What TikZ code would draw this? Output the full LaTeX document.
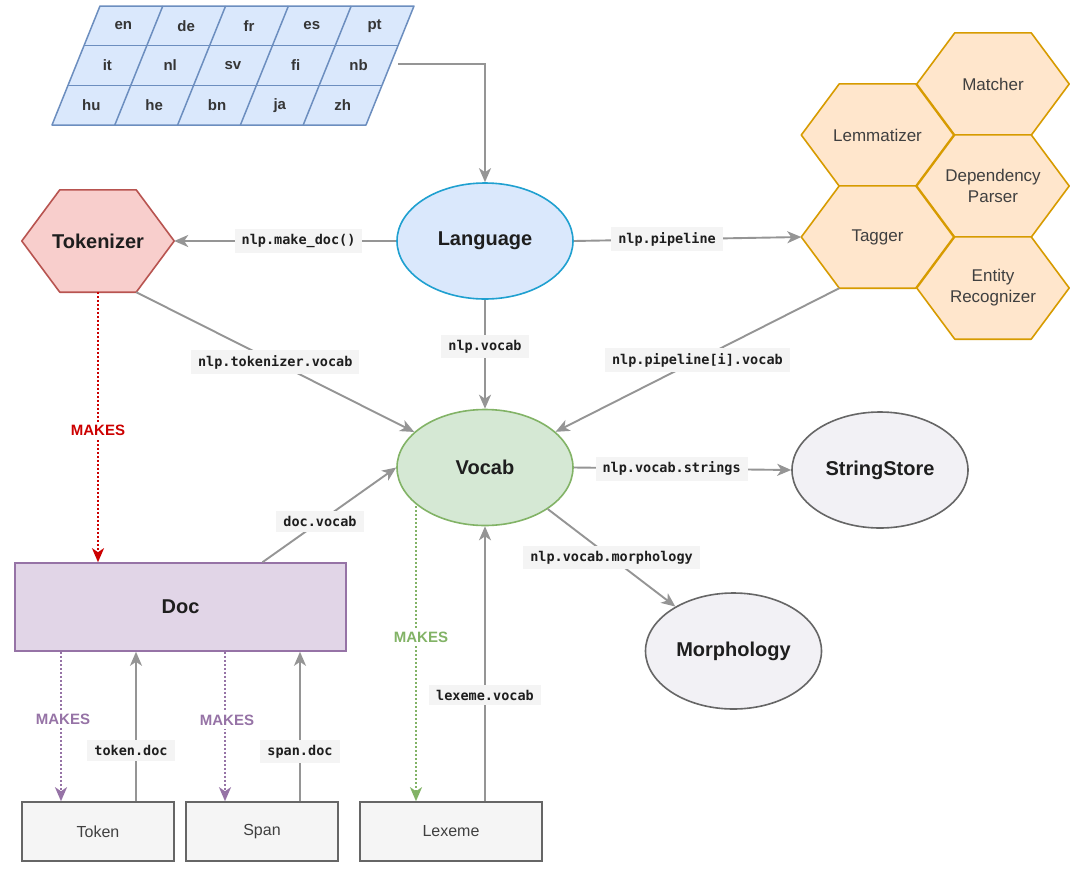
\documentclass[tikz,border=0pt]{standalone}
\usepackage{fontspec}
\setmainfont{Liberation Sans}
\newfontfamily\monofont{DejaVu Sans Mono}
\usetikzlibrary{arrows.meta,calc,shapes.geometric,backgrounds}
\definecolor{gridfill}{HTML}{DAE8FC}
\definecolor{gridline}{HTML}{6C8EBF}
\definecolor{langline}{HTML}{1FA0D0}
\definecolor{vocfill}{HTML}{D5E8D4}
\definecolor{vocline}{HTML}{82B366}
\definecolor{docfill}{HTML}{E1D5E7}
\definecolor{docline}{HTML}{9673A6}
\definecolor{tokfill}{HTML}{F8CECC}
\definecolor{tokline}{HTML}{B85450}
\definecolor{hexfill}{HTML}{FFE6CC}
\definecolor{hexline}{HTML}{D79B00}
\definecolor{grayfill}{HTML}{F2F1F5}
\definecolor{grayline}{HTML}{666666}
\definecolor{boxfill}{HTML}{F5F5F5}
\definecolor{arrgray}{HTML}{959595}
\definecolor{lblbg}{HTML}{F4F4F4}
\definecolor{txt}{HTML}{1E1E1E}
\definecolor{mkred}{HTML}{CC0000}
\newcommand\hexshape[3]{%
  \coordinate (#1-nw) at ($(#1.north west)+(38,0)$);
  \coordinate (#1-ne) at ($(#1.north east)+(-38,0)$);
  \coordinate (#1-sw) at ($(#1.south west)+(38,0)$);
  \coordinate (#1-se) at ($(#1.south east)+(-38,0)$);
  \begin{scope}[on background layer]
    \filldraw[fill=#2,draw=#3,line width=1.6pt,line join=round]
      (#1.west) -- (#1-nw) -- (#1-ne) -- (#1.east) -- (#1-se) -- (#1-sw) -- cycle;
  \end{scope}}
\begin{document}
\begin{tikzpicture}[x=1pt,y=-1pt,
  every node/.style={text=txt},
  cell/.style={font=\bfseries\fontsize{15}{18}\selectfont, text=txt!90},
  ell/.style={ellipse, line width=1.6pt, minimum width=176pt, minimum height=116pt,
    font=\bfseries\fontsize{20}{24}\selectfont},
  hexbox/.style={rectangle, minimum width=152pt, minimum height=102pt, inner sep=0pt,
    align=center, font=\fontsize{17}{21}\selectfont, text=txt!85},
  box/.style={rectangle, draw=grayline, fill=boxfill, line width=1.6pt,
    minimum width=152pt, minimum height=59pt, font=\fontsize{16}{19}\selectfont, text=txt!85},
  docbox/.style={rectangle, draw=docline, fill=docfill, line width=1.6pt,
    minimum width=331pt, minimum height=88pt, font=\bfseries\fontsize{20}{24}\selectfont},
  lbl/.style={font=\monofont\bfseries\fontsize{13.5}{16}\selectfont, fill=lblbg,
    inner xsep=7pt, inner ysep=5pt},
  mk/.style={font=\bfseries\fontsize{15}{18}\selectfont, fill=white, inner sep=3pt},
  tip/.style={-{Stealth[length=14pt,width=12pt,inset=4pt]}},
  arr/.style={draw=arrgray, line width=1.9pt, tip},
  dotline/.style={line width=2pt, dash pattern=on 2pt off 2pt, tip},
]
\begin{scope}[on background layer]
  \fill[white] (0,0) rectangle (1080,871);
\end{scope}
\useasboundingbox (0,0) rectangle (1080,871);

% language grid
\filldraw[fill=gridfill, draw=gridline, line width=1.5pt, line join=round]
  (100,6) -- (414,6) -- (366,125) -- (52,125) -- cycle;
\draw[gridline, line width=1.5pt] (84,45.7) -- (398,45.7) (68,85.3) -- (382,85.3);
\foreach \k in {1,...,4} \draw[gridline, line width=1.5pt] ({100+62.8*\k},6) -- ({52+62.8*\k},125);
\foreach \t [count=\i from 0] in {en,de,fr,es,pt}
  \node[cell] (g\t) at ({123.4+62.8*\i},25.8) {\t};
\foreach \t [count=\i from 0] in {it,nl,sv,fi,nb}
  \node[cell] (g\t) at ({107.4+62.8*\i},65.5) {\t};
\foreach \t [count=\i from 0] in {hu,he,bn,ja,zh}
  \node[cell] (g\t) at ({91.4+62.8*\i},105.2) {\t};
\coordinate (gout) at (398,64);

% main ellipses
\node[ell, fill=gridfill, draw=langline] (lang) at (485,241) {Language};
\node[ell, fill=vocfill, draw=vocline] (vocab) at (485,467.5) {Vocab};
\node[ell, fill=grayfill, draw=grayline] (sstore) at (880,470) {StringStore};
\node[ell, fill=grayfill, draw=grayline] (morph) at (733.5,651) {Morphology};

% hexagons
\node[hexbox, font=\bfseries\fontsize{20}{24}\selectfont, text=txt] (tokz) at (98,241) {Tokenizer};
\hexshape{tokz}{tokfill}{tokline}
\node[hexbox] (match) at (993,84) {Matcher};
\hexshape{match}{hexfill}{hexline}
\node[hexbox] (lemma) at (877.5,135) {Lemmatizer};
\hexshape{lemma}{hexfill}{hexline}
\node[hexbox] (dep) at (993,186) {Dependency\\Parser};
\hexshape{dep}{hexfill}{hexline}
\node[hexbox] (tag) at (877.5,237) {Tagger};
\hexshape{tag}{hexfill}{hexline}
\node[hexbox] (ent) at (993,288) {Entity\\Recognizer};
\hexshape{ent}{hexfill}{hexline}

% doc and bottom boxes
\node[docbox] (doc) at (180.5,607) {Doc};
\node[box] (token) at (98,831.5) {Token};
\node[box] (span) at (262,831.5) {Span};
\node[box, minimum width=182pt] (lex) at (451,831.5) {Lexeme};

% connectors
\draw[arr] (gout) -| (lang.north);
\draw[arr] (lang.west) -- node[lbl,pos=0.44]{nlp.make\_doc()} (tokz.east);
\draw[arr] (lang.east) -- node[lbl,pos=0.41]{nlp.pipeline} (tag.west);
\draw[arr] (lang.south) -- node[lbl,pos=0.43]{nlp.vocab} (vocab.north);
\draw[arr] (tokz-se) -- node[lbl,at={(270,347)}]{nlp.tokenizer.vocab} (vocab);
\draw[arr] (tag-sw) -- node[lbl,at={(697,361)}]{nlp.pipeline[i].vocab} (vocab);
\draw[arr] (vocab.east) -- node[lbl,pos=0.45]{nlp.vocab.strings} (sstore.west);
\draw[arr] (vocab.south east) -- node[lbl,at={(598,552)}]{nlp.vocab.morphology} (morph);
\coordinate (dv) at ([xshift=82pt]doc.north);
\draw[arr] (dv) -- node[lbl,pos=0.43]{doc.vocab} (vocab.west);

\draw[dotline, draw=mkred, color=mkred] (tokz.south) -- node[mk,text=mkred,pos=0.51]{MAKES} (tokz.south |- doc.north);

\coordinate (dt) at ([xshift=-37pt]token.north);
\draw[dotline, draw=docline, color=docline] (dt |- doc.south) -- node[mk,text=docline,pos=0.45,xshift=2pt]{MAKES} (dt);
\coordinate (td) at ([xshift=38pt]token.north);
\draw[arr] (td) -- node[lbl,pos=0.34,xshift=-5pt]{token.doc} (td |- doc.south);

\coordinate (ds) at ([xshift=-37pt]span.north);
\draw[dotline, draw=docline, color=docline] (ds |- doc.south) -- node[mk,text=docline,pos=0.46,xshift=2pt]{MAKES} (ds);
\coordinate (sd) at ([xshift=38pt]span.north);
\draw[arr] (sd) -- node[lbl,pos=0.33]{span.doc} (sd |- doc.south);

\coordinate (vmk) at (416,506);
\draw[dotline, draw=vocline, color=vocline] (vmk) -- node[mk,text=vocline,pos=0.446,xshift=5pt]{MAKES} (vmk |- lex.north);
\draw[arr] (lex.north -| vocab.south) -- node[lbl,pos=0.386]{lexeme.vocab} (vocab.south);
\end{tikzpicture}
\end{document}
